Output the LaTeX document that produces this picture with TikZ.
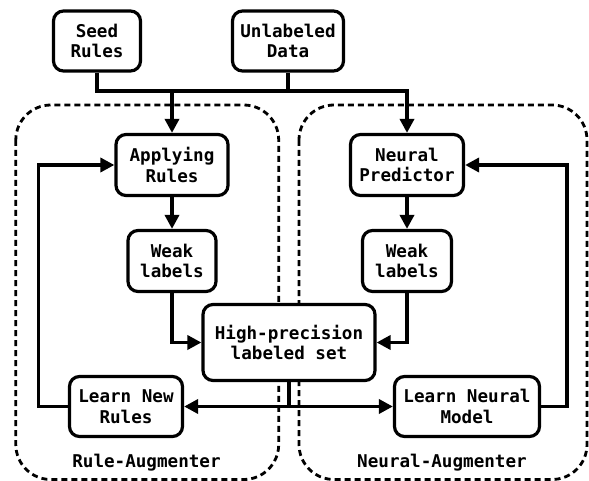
\documentclass[tikz,border=0pt]{standalone}
\usepackage{fontspec}
\setmainfont{DejaVu Sans Mono}
\usetikzlibrary{arrows.meta}
\begin{document}
\begin{tikzpicture}[x=1pt,y=-1pt,
  box/.style={draw,line width=3.2pt,rounded corners=10pt,fill=white,align=center,inner sep=0pt,
    font=\fontsize{17.6}{20.6}\selectfont\bfseries},
  conn/.style={line width=3.5pt},
  arr/.style={conn,-{Triangle[length=14pt,width=14pt]}},
  region/.style={line width=2.8pt,dash pattern=on 6pt off 4pt,rounded corners=35pt},
  lab/.style={font=\fontsize{17.6}{20.6}\selectfont\bfseries,inner sep=0pt}]
\useasboundingbox (0,0) rectangle (589,481);
% regions
\draw[region] (15.8,105) rectangle (278.7,479.5);
\draw[region] (299,105) rectangle (587,479.5);
\node[lab] (rlab) at (146.5,463) {Rule-Augmenter};
\node[lab] (nlab) at (442,463) {Neural-Augmenter};
% nodes
\node[box,minimum width=87pt,minimum height=60pt] (seed) at (97,41) {Seed\\Rules};
\node[box,minimum width=111pt,minimum height=60pt] (unl) at (288,41) {Unlabeled\\Data};
\node[box,minimum width=112pt,minimum height=61pt] (apply) at (172,165) {Applying\\Rules};
\node[box,minimum width=113pt,minimum height=61pt] (neur) at (407,165) {Neural\\Predictor};
\node[box,minimum width=88pt,minimum height=61pt] (weakL) at (172,261) {Weak\\labels};
\node[box,minimum width=89pt,minimum height=61pt] (weakR) at (407,261) {Weak\\labels};
\node[box,minimum width=172pt,minimum height=76pt] (high) at (289,342.5) {High-precision\\labeled set};
\node[box,minimum width=113pt,minimum height=60pt] (learnR) at (126,406.5) {Learn New\\Rules};
\node[box,minimum width=145pt,minimum height=60pt] (learnN) at (467,406.5) {Learn Neural\\Model};
% connectors
\coordinate (jl) at (97,91);
\coordinate (jr) at (408.5,91);
\draw[conn] (seed.south) -- (jl) -- (jr);
\draw[conn] (unl.south) -- (unl.south |- jl);
\draw[arr] (apply.north |- jl) -- (apply.north);
\draw[arr] (neur.north |- jr) -- (neur.north);
\draw[arr] (apply) -- (weakL);
\draw[arr] (neur) -- (weakR);
\draw[arr] (weakL.south) |- (high.west);
\draw[arr] (weakR.south) |- (high.east);
\coordinate (m) at (high.south |- learnR.east);
\draw[conn] (high.south) -- (m);
\draw[arr] (m) -- (learnR.east);
\draw[arr] (m) -- (learnN.west);
\coordinate (lx) at (38.7,406.5);
\coordinate (rx) at (567,406.5);
\draw[arr] (learnR.west) -- (lx) |- (apply.west);
\draw[arr] (learnN.east) -- (rx) |- (neur.east);
\end{tikzpicture}
\end{document}
